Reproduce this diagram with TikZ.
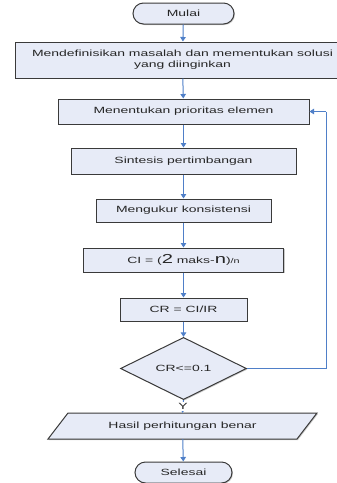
\documentclass[tikz,border=0pt]{standalone}
\usepackage{fontspec}
\setmainfont{Liberation Sans}[FakeStretch=1.55]
\usetikzlibrary{arrows.meta,shapes.geometric,shapes.misc,shadows}
\definecolor{boxfill}{HTML}{E7EBF7}
\definecolor{boxline}{HTML}{3A3A3A}
\definecolor{arrowblue}{HTML}{4F7FC8}
\tikzset{
  base/.style={draw=boxline, line width=1pt, fill=boxfill, inner sep=0pt, align=center,
    font=\fontsize{9}{11}\selectfont, text=black!85,
    drop shadow={shadow xshift=1pt, shadow yshift=-1pt, fill=black!35, opacity=0.6}},
  procbox/.style={base, rectangle},
  termbox/.style={base, rounded rectangle},
  decbox/.style={base, diamond},
  flow/.style={draw=arrowblue, line width=1pt, -{Triangle[width=5.5pt,length=4.5pt]}},
  plain/.style={draw=arrowblue, line width=1pt},
}
\begin{document}
\begin{tikzpicture}[x=1pt,y=-1pt]
\useasboundingbox (0,0) rectangle (337,483);
\node[termbox, minimum width=101pt, minimum height=21pt] (mulai) at (183.5,13.5) {Mulai};
\node[procbox, minimum width=335pt, minimum height=36pt] (b1) at (182.5,60)
  {Mendefinisikan masalah dan mementukan solusi\\yang diinginkan};
\node[procbox, minimum width=251pt, minimum height=25pt] (b2) at (183.5,111.5) {Menentukan prioritas elemen};
\node[procbox, minimum width=225pt, minimum height=26pt] (b3) at (183.5,161) {Sintesis pertimbangan};
\node[procbox, minimum width=175pt, minimum height=23pt] (b4) at (183.5,210.5) {Mengukur konsistensi};
\node[procbox, minimum width=200pt, minimum height=24pt] (b5) at (183.5,260)
  {CI = ({\fontsize{13}{13}\selectfont 2} maks-{\fontsize{13}{13}\selectfont n}){\fontsize{7}{7}\selectfont /n}};
\node[procbox, minimum width=127pt, minimum height=23pt] (b6) at (183.5,309.5) {CR = CI/IR};
\node[decbox, minimum width=126pt, minimum height=49pt] (d) at (183.5,368.5) {CR<=0.1};
\path[draw=boxline, line width=1pt, fill=boxfill,
  drop shadow={shadow xshift=1pt, shadow yshift=-1pt, fill=black!35, opacity=0.6}]
  (68,413) -- (317,413) -- (297,439) -- (48,439) -- cycle;
\node[inner sep=0pt, font=\fontsize{9}{11}\selectfont, text=black!85, minimum height=26pt, minimum width=249pt] (p) at (182.5,426) {Hasil perhitungan benar};
\node[termbox, minimum width=97pt, minimum height=21pt] (selesai) at (183.5,472.5) {Selesai};
\coordinate (fr) at (326,368.5);
\coordinate (fu) at (326,111.5);
\draw[flow] (mulai) -- (b1);
\draw[flow] (b1) -- (b2);
\draw[flow] (b2) -- (b3);
\draw[flow] (b3) -- (b4);
\draw[flow] (b4) -- (b5);
\draw[flow] (b5) -- (b6);
\draw[flow] (b6) -- (d);
\draw[flow] (d.south) -- node[fill=white, inner sep=1pt, font=\fontsize{9}{9}\selectfont, text=black!85] {Y} (p.north);
\draw[flow] (p) -- (selesai);
\draw[plain] (d.east) -- (fr) -- (fu);
\draw[flow] (fu) -- (b2.east);
\end{tikzpicture}
\end{document}
